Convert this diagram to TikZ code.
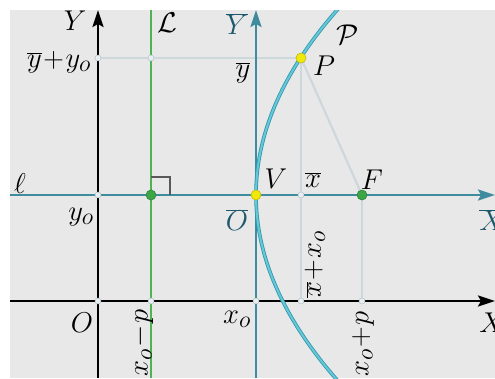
\documentclass[tikz,border=0pt]{standalone}
\usetikzlibrary{arrows.meta}
\definecolor{bgc}{RGB}{232,232,232}
\definecolor{tealax}{RGB}{62,140,158}
\definecolor{teallab}{RGB}{28,88,106}
\definecolor{parout}{RGB}{48,150,172}
\definecolor{parin}{RGB}{100,200,215}
\definecolor{guide}{RGB}{205,216,221}
\definecolor{guideedge}{RGB}{180,195,200}
\definecolor{greenl}{RGB}{78,180,82}
\definecolor{dotfill}{RGB}{232,238,242}
\definecolor{yel}{RGB}{240,232,10}
\definecolor{grn}{RGB}{60,165,70}
\begin{document}
\begin{tikzpicture}[x=1pt,y=-1pt,
  lab/.style={inner sep=0pt,font=\fontsize{24.88}{28}\selectfont,scale=1.15,transform shape},
  axisblack/.style={line width=2.4pt,black},
  axisteal/.style={line width=2.4pt,tealax},
  guideline/.style={line width=2.2pt,guide},
  smalldot/.style={circle,inner sep=0pt,minimum size=6pt,fill=dotfill,draw=guideedge,line width=0.5pt},
  yeldot/.style={circle,inner sep=0pt,minimum size=10pt,fill=yel,draw=yel!80!black,line width=0.6pt},
  grndot/.style={circle,inner sep=0pt,minimum size=10pt,fill=grn,draw=grn!80!black,line width=0.6pt},
  tip/.style={-{Stealth[length=17pt,width=11pt,inset=3pt]}}
]
\useasboundingbox (0,0) rectangle (495,378);
\fill[bgc] (10,10) rectangle (495,378);
% coordinates
\coordinate (Ybot) at (98,378);
\coordinate (Ytop) at (98,10);
\coordinate (Xl) at (10,301);
\coordinate (Xr) at (495,301);
\coordinate (ll) at (10,195);
\coordinate (lr) at (495,195);
\coordinate (Ybbot) at (256,378);
\coordinate (Ybtop) at (256,10);
\coordinate (Ltop) at (151,10);
\coordinate (Lbot) at (151,378);
\coordinate (P) at (301,58);
\coordinate (V) at (256,195);
\coordinate (F) at (362,195);
\coordinate (A) at (98,58);
\coordinate (B) at (151,58);
\coordinate (C) at (98,195);
\coordinate (D) at (151,195);
\coordinate (E) at (98,301);
\coordinate (G) at (151,301);
\coordinate (H) at (256,301);
\coordinate (xb) at (301,195);
\coordinate (I) at (301,301);
\coordinate (J) at (362,301);
% guide lines
\draw[guideline] (A) -- (P);
\draw[guideline] (P) -- (I);
\draw[guideline] (F) -- (J);
\draw[guideline] (P) -- (F);
% axes
\draw[axisblack,tip] (Xl) -- (Xr);
\draw[axisblack,tip] (Ybot) -- (Ytop);
\draw[axisteal,tip] (ll) -- (lr);
\draw[axisteal,tip] (Ybbot) -- (Ybtop);
% directrix
\draw[line width=2.2pt,greenl] (Ltop) -- (Lbot);
% right angle
\draw[line width=1.3pt,black!65] (151,177) -- (170,177) -- (170,195);
% parabola
\begin{scope}
\clip (10,10) rectangle (495,378);
\draw[line width=3.6pt,parout] plot[domain=-190:190,samples=80,smooth,variable=\s] ({256+\s*(\s/422)},{195+\s});
\draw[line width=2pt,parin] plot[domain=-190:190,samples=80,smooth,variable=\s] ({256+\s*(\s/422)},{195+\s});
\end{scope}
% dots
\foreach \p in {A,B,C,E,G,H,xb,I,J} \node[smalldot] at (\p) {};
\node[yeldot] (Pd) at (P) {};
\node[yeldot] (Vd) at (V) {};
\node[grndot] (Dd) at (D) {};
\node[grndot] (Fd) at (F) {};
% labels
\node[lab] (lY) at (75,21) {$Y$};
\node[lab] (lL) at (167,23) {$\mathcal{L}$};
\node[lab,text=teallab] (lYb) at (237,24) {$\overline{Y}$};
\node[lab] (lPc) at (348,35) {$\mathcal{P}$};
\node[lab] (lyy) at (59,62) {$\overline{y}\!+\!y_o$};
\node[lab] (lyb) at (243,73) {$\overline{y}$};
\node[lab] (lP) at (324,66) {$P$};
\node[lab] (lell) at (20,184) {$\ell$};
\node[lab] (lV) at (276,179) {$V$};
\node[lab] (lxb) at (313,180) {$\overline{x}$};
\node[lab] (lF) at (372,180) {$F$};
\node[lab] (lyo) at (81,217) {$y_o$};
\node[lab,text=teallab] (lOb) at (237,220) {$\overline{O}$};
\node[lab,text=teallab] (lXb) at (492,220) {$\overline{X}$};
\node[lab,rotate=90] (lxx) at (315,264) {$\overline{x}\!+\!x_o$};
\node[lab] (lO) at (82,323) {$O$};
\node[lab] (lxo) at (237,319) {$x_o$};
\node[lab] (lX) at (492,323) {$X$};
\node[lab,rotate=90] (lxm) at (142,343) {$x_o\!-\!p$};
\node[lab,rotate=90] (lxp) at (363,344) {$x_o\!+\!p$};
\end{tikzpicture}
\end{document}
